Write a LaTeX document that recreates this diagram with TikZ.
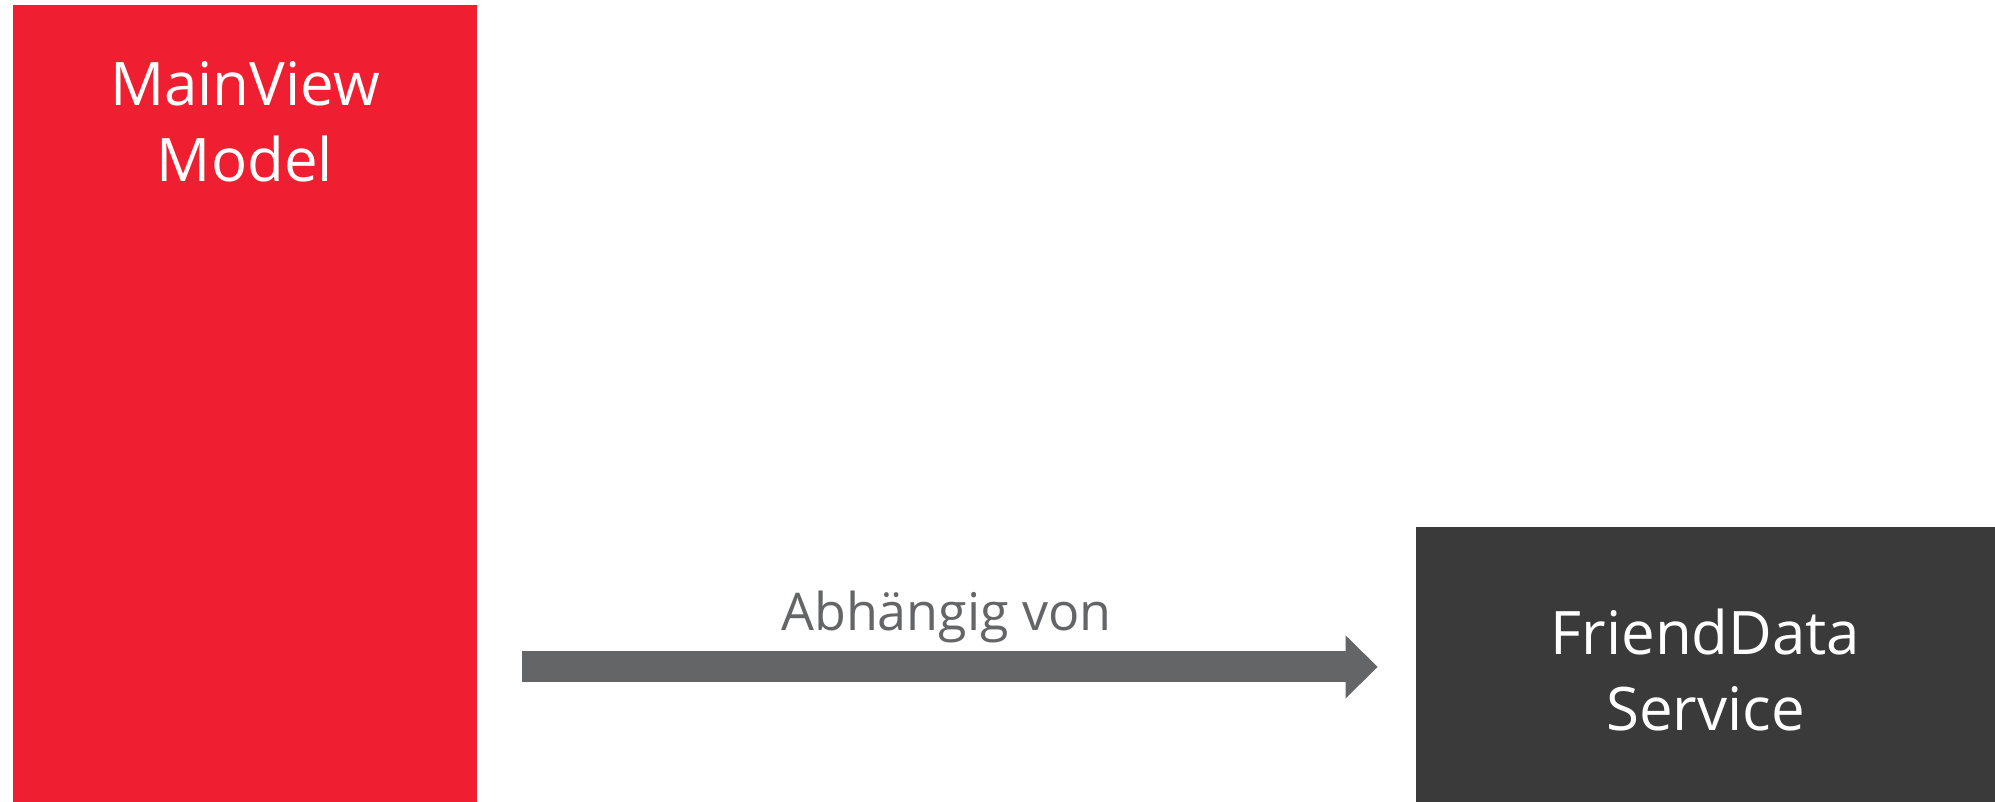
\documentclass[tikz,border=0pt]{standalone}
\usepackage{fontspec}
\setmainfont{Open Sans}
\usetikzlibrary{arrows.meta,positioning}
\definecolor{vmred}{HTML}{EF1E30}
\definecolor{svcgray}{HTML}{3A3A3A}
\definecolor{depgray}{HTML}{646567}
\tikzset{
  block/.style={draw=none,inner sep=0pt},
  blocktext/.style={text=white,align=center,font=\fontsize{30}{38}\selectfont},
  depends/.style={depgray,line width=15.5pt,
    -{Triangle[length=16pt,width=31.5pt,line width=0pt]}},
}
\begin{document}
\begin{tikzpicture}[x=0.5pt,y=-0.5pt]
      \useasboundingbox (0,0) rectangle (1995,802);
      % the two classes
      \node[block,fill=vmred,minimum width=232pt,minimum height=398.5pt] (mainvm) at (245,403.5) {};
      \node[block,fill=svcgray,minimum width=289.5pt,minimum height=137.5pt] (service) at (1705.5,664.5) {};
      \node[blocktext,anchor=base] (mainvmtext) at (245,182) {MainView\\Model};
      \node[blocktext,anchor=base] (servicetext) at (1705.5,730) {FriendData\\Service};
      % dependency
      \coordinate (depend) at ([yshift=-1.2pt]service.west);
      \draw[depends,shorten <=22.5pt,shorten >=19pt] (mainvm.east |- depend) -- (depend)
        node[midway,above=4pt,text=depgray,font=\fontsize{26}{30}\selectfont,inner sep=0pt] (dep) {Abhängig von};
    \end{tikzpicture}
\end{document}
